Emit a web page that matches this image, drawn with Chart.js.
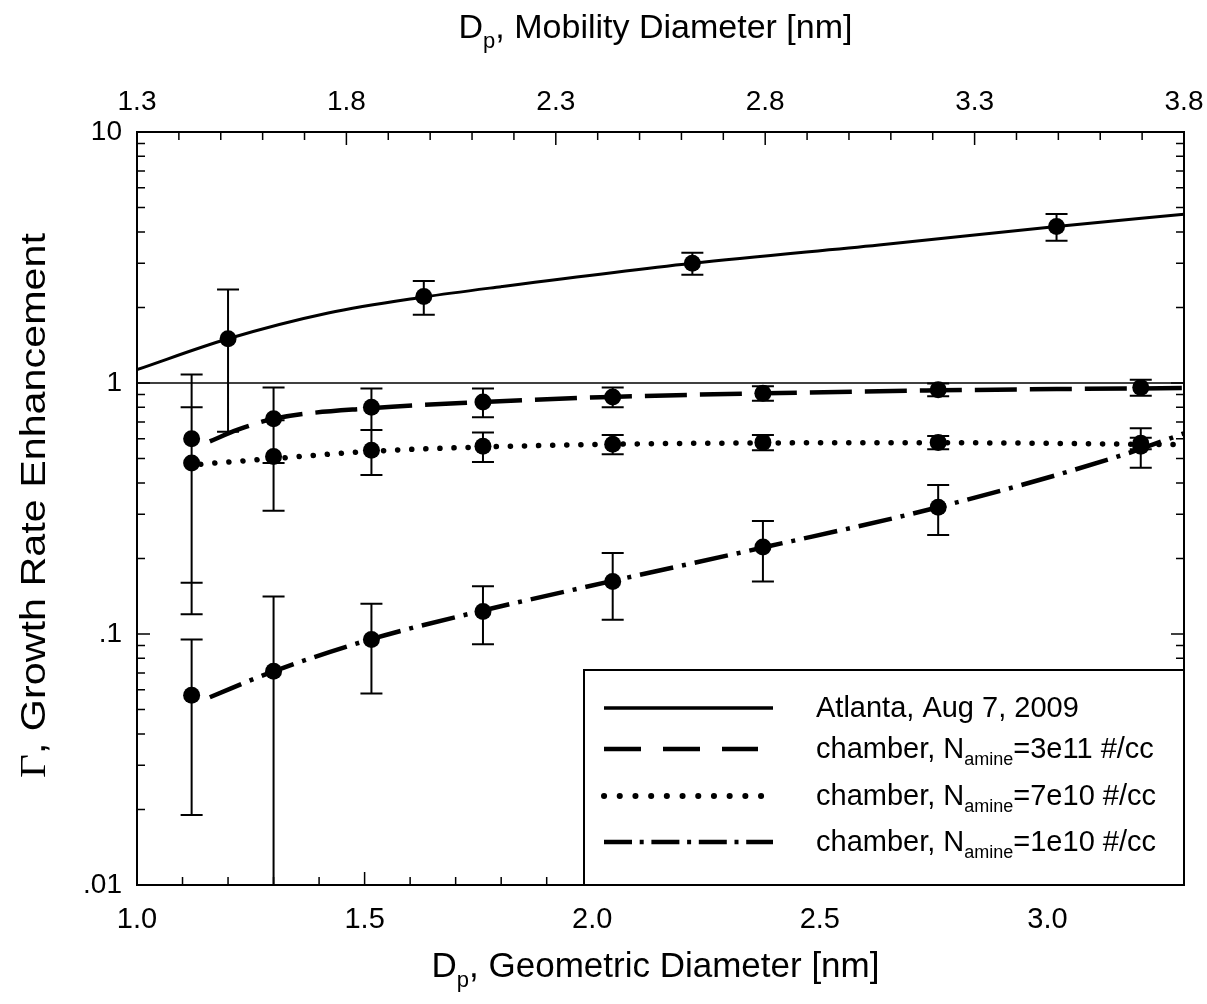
<!DOCTYPE html>
<html>
<head>
<meta charset="utf-8">
<script src="https://cdn.jsdelivr.net/npm/chart.js@4.4.1/dist/chart.umd.min.js"></script>
<style>
  html, body { margin: 0; padding: 0; background: #fff; }
</style>
</head>
<body>
<canvas id="grafico" width="1207" height="1004"></canvas>
<script>
// Puntos medidos (eje x = diámetro geométrico en nm)
const atlantaX = [1.20, 1.63, 2.22, 3.02];
const atlantaY = [1.50, 2.21, 3.00, 4.20];
const atlantaErr = [0.86, 0.34, 0.30, 0.51];

const chamberX = [1.12, 1.30, 1.515, 1.76, 2.045, 2.375, 2.76, 3.205];
const amine3e11Y = [0.60, 0.72, 0.80, 0.84, 0.88, 0.91, 0.94, 0.96];
const amine3e11Err = [0.48, 0.24, 0.15, 0.11, 0.08, 0.06, 0.055, 0.07];
const amine7e10Y = [0.48, 0.51, 0.54, 0.56, 0.57, 0.58, 0.58, 0.575];
const amine7e10Err = [0.32, 0.20, 0.11, 0.075, 0.05, 0.04, 0.035, 0.03];
const amine1e10Y = [0.057, 0.071, 0.095, 0.123, 0.162, 0.222, 0.32, 0.56];
const amine1e10Err = [0.038, 0.07, 0.037, 0.032, 0.048, 0.06, 0.072, 0.10];

// Curvas de ajuste
const atlantaFitX = [1.0, 1.2, 1.42, 1.63, 1.8, 2.22, 2.63, 3.02, 3.3];
const atlantaFitY = [1.13, 1.50, 1.90, 2.20, 2.42, 3.0, 3.55, 4.2, 4.7];
const fit3e11X = [1.16, 1.22, 1.30, 1.52, 1.76, 2.04, 2.38, 2.76, 3.3];
const fit3e11Y = [0.585, 0.65, 0.72, 0.795, 0.84, 0.88, 0.91, 0.935, 0.955];
const fit7e10X = [1.14, 1.30, 1.52, 1.76, 2.04, 2.38, 2.76, 3.3];
const fit7e10Y = [0.475, 0.50, 0.535, 0.556, 0.57, 0.577, 0.578, 0.568];
const fit1e10X = [1.16, 1.30, 1.52, 1.76, 2.04, 2.38, 2.76, 3.17, 3.3];
const fit1e10Y = [0.056, 0.071, 0.096, 0.124, 0.162, 0.222, 0.32, 0.52, 0.63];

// Línea de referencia en Γ = 1
const refLineX = [1.0, 3.3];
const refLineY = [1, 1];

// Ejes
const geomTicks = [1.0, 1.5, 2.0, 2.5, 3.0];
const mobilityTicks = [1.3, 1.8, 2.3, 2.8, 3.3, 3.8];
const yTicks = [0.01, 0.1, 1, 10];
const yTickLabels = ['.01', '.1', '1', '10'];

const SANS = "'Liberation Sans', Arial, sans-serif";
const pares = (xs, ys) => xs.map((x, i) => ({ x: x, y: ys[i] }));

const curva = (label, xs, ys, ancho, guiones, tapa) => ({
    label: label,
    data: pares(xs, ys),
    showLine: true,
    borderColor: '#000',
    borderWidth: ancho,
    borderDash: guiones,
    borderCapStyle: tapa || 'butt',
    borderJoinStyle: 'round',
    pointRadius: 0,
    cubicInterpolationMode: 'monotone',
    fill: false
});

const puntos = (label, xs, ys) => ({
    label: label,
    data: pares(xs, ys),
    showLine: false,
    pointRadius: 8.5,
    pointBackgroundColor: '#000',
    pointBorderColor: '#000',
    pointBorderWidth: 0
});

// Series con barras de error
const seriesError = [
    { x: atlantaX, y: atlantaY, err: atlantaErr },
    { x: chamberX, y: amine3e11Y, err: amine3e11Err },
    { x: chamberX, y: amine7e10Y, err: amine7e10Err },
    { x: chamberX, y: amine1e10Y, err: amine1e10Err }
];

const barrasError = {
    id: 'barrasError',
    beforeDatasetsDraw(chart) {
        const { ctx, chartArea: a, scales } = chart;
        ctx.save();
        ctx.beginPath();
        ctx.rect(a.left, a.top, a.right - a.left, a.bottom - a.top);
        ctx.clip();
        ctx.strokeStyle = '#000';
        ctx.lineWidth = 2;
        ctx.beginPath();
        seriesError.forEach(s => {
            s.x.forEach((xv, i) => {
                const px = scales.x.getPixelForValue(xv);
                const arriba = scales.y.getPixelForValue(s.y[i] + s.err[i]);
                const abajo = scales.y.getPixelForValue(Math.max(s.y[i] - s.err[i], 1e-5));
                ctx.moveTo(px, arriba); ctx.lineTo(px, abajo);
                ctx.moveTo(px - 11, arriba); ctx.lineTo(px + 11, arriba);
                ctx.moveTo(px - 11, abajo); ctx.lineTo(px + 11, abajo);
            });
        });
        ctx.stroke();
        ctx.restore();
    }
};

// Dibuja un texto con subíndice centrado en x
function textoPartes(ctx, partes, x, y) {
    let total = 0;
    partes.forEach(p => { ctx.font = p.font; p.w = ctx.measureText(p.t).width; total += p.w; });
    let cx = x - total / 2;
    partes.forEach(p => {
        ctx.font = p.font;
        ctx.fillText(p.t, cx, y + (p.dy || 0));
        cx += p.w;
    });
}

function textoIzq(ctx, partes, x, y) {
    let cx = x;
    partes.forEach(p => {
        ctx.font = p.font;
        ctx.fillText(p.t, cx, y + (p.dy || 0));
        cx += ctx.measureText(p.t).width;
    });
}

const marco = {
    id: 'marco',
    afterDraw(chart) {
        const { ctx, chartArea: a, scales } = chart;
        ctx.save();
        ctx.strokeStyle = '#000';

        // Marcas hacia dentro
        ctx.lineWidth = 1.5;
        ctx.beginPath();
        for (let k = 10; k <= 33; k++) {
            const px = scales.x.getPixelForValue(k / 10);
            const l = k % 5 === 0 ? 13 : 8;
            ctx.moveTo(px, a.bottom); ctx.lineTo(px, a.bottom - l);
        }
        for (let k = 13; k <= 38; k++) {
            const px = scales.x2.getPixelForValue(k / 10);
            const l = (k - 13) % 5 === 0 ? 13 : 8;
            ctx.moveTo(px, a.top); ctx.lineTo(px, a.top + l);
        }
        for (let e = -2; e <= 1; e++) {
            for (let m = 1; m <= 9; m++) {
                const v = m * Math.pow(10, e);
                if (v > 10.0001) break;
                const py = scales.y.getPixelForValue(v);
                const l = m === 1 ? 13 : 8;
                ctx.moveTo(a.left, py); ctx.lineTo(a.left + l, py);
                ctx.moveTo(a.right, py); ctx.lineTo(a.right - l, py);
            }
        }
        ctx.stroke();

        // Marco del área
        ctx.lineWidth = 2;
        ctx.strokeRect(a.left, a.top, a.right - a.left, a.bottom - a.top);

        // Leyenda
        const lx = 584, ly = 670;
        ctx.fillStyle = '#fff';
        ctx.fillRect(lx, ly, a.right - lx, a.bottom - ly);
        ctx.strokeRect(lx, ly, a.right - lx, a.bottom - ly);

        const filas = [
            { y: 708, fin: 773, dash: [], cap: 'butt', w: 3.5, texto: [{ t: 'Atlanta, Aug 7, 2009', font: '29px ' + SANS }] },
            { y: 749, fin: 758, dash: [37, 22], cap: 'butt', w: 4.5, amine: '3e11' },
            { y: 796, fin: 762, dash: [0.1, 15.6], cap: 'round', w: 6, amine: '7e10' },
            { y: 842, fin: 773, dash: [28, 7.7, 4, 7.7], cap: 'butt', w: 4.5, amine: '1e10' }
        ];
        filas.forEach(f => {
            ctx.save();
            ctx.lineWidth = f.w;
            ctx.lineCap = f.cap;
            ctx.setLineDash(f.dash);
            ctx.beginPath();
            ctx.moveTo(604, f.y); ctx.lineTo(f.fin, f.y);
            ctx.stroke();
            ctx.restore();
            ctx.fillStyle = '#000';
            ctx.textAlign = 'left';
            ctx.textBaseline = 'alphabetic';
            const partes = f.texto || [
                { t: 'chamber, N', font: '29px ' + SANS },
                { t: 'amine', font: '18px ' + SANS, dy: 7 },
                { t: '=' + f.amine + ' #/cc', font: '29px ' + SANS }
            ];
            textoIzq(ctx, partes, 816, f.y + 9);
        });

        // Títulos de los ejes
        ctx.fillStyle = '#000';
        ctx.textAlign = 'left';
        ctx.textBaseline = 'alphabetic';
        const cx = (a.left + a.right) / 2 - 5;
        textoPartes(ctx, [
            { t: 'D', font: '35px ' + SANS },
            { t: 'p', font: '22px ' + SANS, dy: 10 },
            { t: ', Geometric Diameter [nm]', font: '35px ' + SANS }
        ], cx, 977);
        textoPartes(ctx, [
            { t: 'D', font: '34px ' + SANS },
            { t: 'p', font: '22px ' + SANS, dy: 10 },
            { t: ', Mobility Diameter [nm]', font: '34px ' + SANS }
        ], cx, 38);

        ctx.save();
        ctx.translate(45, (a.top + a.bottom) / 2 - 3);
        ctx.rotate(-Math.PI / 2);
        ctx.scale(1.18, 1);
        textoPartes(ctx, [
            { t: 'Γ', font: "35px 'Liberation Serif', serif" },
            { t: ', Growth Rate Enhancement', font: '35px ' + SANS }
        ], 0, 0);
        ctx.restore();

        ctx.restore();
    }
};

// Quita el relleno lateral que Chart.js reserva para las etiquetas
const sinRelleno = s => { s.paddingLeft = 0; s.paddingRight = 0; };

const ctxGrafico = document.getElementById('grafico').getContext('2d');

new Chart(ctxGrafico, {
    type: 'scatter',
    data: {
        datasets: [
            curva('ref', refLineX, refLineY, 1.5, []),
            curva('Atlanta fit', atlantaFitX, atlantaFitY, 3, []),
            curva('3e11 fit', fit3e11X, fit3e11Y, 4.5, [42, 13]),
            curva('7e10 fit', fit7e10X, fit7e10Y, 5.5, [0.1, 14], 'round'),
            curva('1e10 fit', fit1e10X, fit1e10Y, 4.5, [34, 9, 4, 9]),
            puntos('Atlanta, Aug 7, 2009', atlantaX, atlantaY),
            puntos('chamber 3e11', chamberX, amine3e11Y),
            puntos('chamber 7e10', chamberX, amine7e10Y),
            puntos('chamber 1e10', chamberX, amine1e10Y)
        ]
    },
    options: {
        responsive: false,
        animation: false,
        devicePixelRatio: 1,
        layout: { padding: { left: 0, right: 23, top: 0, bottom: 0 } },
        plugins: { legend: { display: false }, tooltip: { enabled: false } },
        scales: {
            x: {
                type: 'linear', position: 'bottom', min: 1.0, max: 3.3,
                grid: { display: false, drawTicks: false }, border: { display: false },
                afterBuildTicks: s => { s.ticks = geomTicks.map(v => ({ value: v })); },
                afterFit: s => { s.height = 119; sinRelleno(s); },
                ticks: {
                    autoSkip: false, maxRotation: 0, padding: 18, color: '#000',
                    font: { family: SANS, size: 29 },
                    callback: v => Number(v).toFixed(1)
                }
            },
            x2: {
                type: 'linear', position: 'top', min: 1.3, max: 3.8,
                grid: { display: false, drawTicks: false }, border: { display: false },
                afterBuildTicks: s => { s.ticks = mobilityTicks.map(v => ({ value: v })); },
                afterFit: s => { s.height = 132; sinRelleno(s); },
                ticks: {
                    autoSkip: false, maxRotation: 0, padding: 13, color: '#000',
                    font: { family: SANS, size: 28 },
                    callback: v => Number(v).toFixed(1)
                }
            },
            y: {
                type: 'logarithmic', position: 'left', min: 0.01, max: 10,
                grid: { display: false, drawTicks: false }, border: { display: false },
                afterBuildTicks: s => { s.ticks = yTicks.map(v => ({ value: v })); },
                afterFit: s => { s.width = 137; s.paddingTop = 0; s.paddingBottom = 0; },
                ticks: {
                    autoSkip: false, padding: 15, color: '#000',
                    font: { family: SANS, size: 28 },
                    callback: (v, i) => yTickLabels[i]
                }
            }
        }
    },
    plugins: [barrasError, marco]
});
</script>
</body>
</html>
